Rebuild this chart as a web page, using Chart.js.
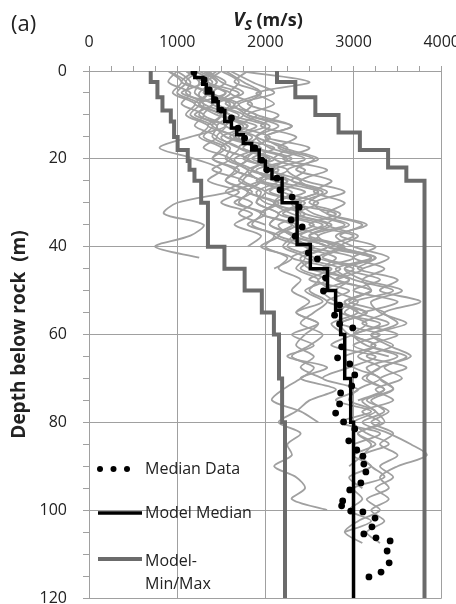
<!DOCTYPE html>
<html>
<head>
<meta charset="utf-8">
<script src="https://cdn.jsdelivr.net/npm/chart.js@4"></script>
<style>
html, body { margin: 0; padding: 0; background: #fff; overflow: hidden; }
#wrap { position: relative; width: 456px; height: 604px; overflow: hidden; }
</style>
</head>
<body>
<div id="wrap"><canvas id="vsCanvas" width="474" height="604"></canvas></div>
<script>
// depth grid (m) shared by the measured profiles
var gridDepth = [0, 2.5, 5, 7.5, 10, 12.5, 15, 17.5, 20, 22.5, 25, 27.5, 30, 32.5, 35, 37.5,
	40, 42.5, 45, 47.5, 50, 52.5, 55, 57.5, 60, 62.5, 65, 67.5, 70, 72.5, 75, 77.5, 80,
	82.5, 85, 87.5, 90, 92.5, 95, 97.5, 100, 102.5, 105, 107.5, 110, 112.5, 115];

// measured Vs profiles (m/s), one value per grid depth, each ends where the borehole ends
var profileVs = [
	[900, 1100, 1000, 1250, 1150, 1400, 1300, 1550, 1400, 1700, 1550, 1850, 1650, 2000, 1800, 2150, 1950, 2300, 2100],
	[1400, 1250, 1600, 1450, 1750, 1550, 1900, 1750, 2050, 1850, 2250, 2000, 2400, 2150, 2550, 2300, 2700, 2450, 2850, 2600, 2750],
	[1100, 1300, 1050, 1400, 1200, 1550, 1150, 800, 1200, 1500, 1350, 1700, 1500, 1850, 1650, 1950, 1800],
	[1300, 1550, 1400, 1700, 1500, 1900, 1650, 2100, 1850, 2250, 1950, 1600, 1000, 850, 1300, 1150, 750, 1250],
	[1700, 2500, 1900, 2100, 1800, 2300, 2000, 2500, 2200, 2700, 2400, 2600, 2300, 2800, 2500, 3000, 2700, 3200, 2900, 3300, 3000, 3500, 3100],
	[1500, 1350, 1700, 1550, 1900, 1700, 2050, 1900, 2250, 2050, 2400, 2200, 2600, 2350, 2750, 2500, 2900, 2650, 3100, 2800],
	[1000, 900, 1150, 1050, 1300, 1200, 1450, 1300, 1600, 1400, 1750, 1550, 1850, 1700, 2000],
	[1250, 1450, 1300, 1650, 1500, 1800, 1600, 1950, 1750, 2150, 1900, 2300, 2100],
	[1600, 1850, 2100, 1700, 1900, 2300, 2000, 2200, 2600, 2250, 2450, 2900, 2550, 2700, 3150, 2800, 3000, 3400, 3100],
	[1200, 1050, 1350, 1250, 1500, 1400, 1650, 1500, 1800, 1650, 1950, 1800, 2100, 1950, 2300, 2100, 2450],
	[1350, 1500, 1750, 1450, 1600, 2000, 1700, 1900, 2300, 1900, 2100, 2600, 2300, 2450, 2900, 2500, 2700, 3200, 2800, 3000, 3450, 3000, 2850, 3300, 3000, 2750, 3250, 2950, 2650, 3050, 2800, 3200, 2850, 3300, 3000],
	[1000, 1150, 1100, 1300, 1250, 1450, 1400, 1600, 1550, 1800, 1700, 1950, 1900, 2150, 2050, 2350, 2250, 2550, 2400, 2700, 2450, 2650, 2350, 2600, 2300, 2550, 2250, 2700, 2400, 2800, 2500, 2350, 2150, 2400, 2250, 2300, 2100, 2350, 2450, 2300, 2700],
	[1500, 1700, 1600, 1850, 1750, 2050, 1900, 2250, 2100, 2450, 2300, 2650, 2500, 2850, 2700, 3050, 2850, 3250, 3050, 3500, 3300, 3760, 3350, 3500, 3200, 3450, 3150, 3600, 3300, 3450, 3200, 3350, 3100, 3400, 3650, 3830, 3500, 3300, 3400, 3150, 3300, 3050, 2900, 3100],
	[1200, 1400, 1250, 1300, 1600, 1450, 1550, 1900, 1650, 1800, 2150, 1900, 2000, 2450, 2150, 2300, 2700, 2400, 2500, 2950, 2650, 2800, 3150, 2850, 2950, 3250, 2900, 3000, 3300, 3050, 2950, 3250, 3000, 3150, 3400, 3100, 3200, 3350, 3000, 3100, 2950, 3200, 2900],
	[1100, 1250, 1200, 1400, 1300, 1550, 1450, 1700, 1600, 1850, 1750, 2000, 1900, 2150, 2050, 2300, 2200, 2450, 2350, 2600, 2500, 2700, 2550, 2400, 2650, 2500, 2300, 2550, 2400, 2200, 2075, 2400, 2600],
	[1450, 1300, 1550, 1400, 1700, 1550, 1850, 1700, 2050, 1850, 2250, 2050, 2450, 2200, 2650, 2400, 2850, 2600, 3000, 2800, 3200, 2950, 3350, 3100, 3500, 3200, 3600, 3350, 3550, 3250, 3450, 3100, 3300, 3050, 3250, 3000, 3200, 2950, 3100],
	[1150, 1300, 1550, 1250, 1450, 1800, 1500, 1700, 2100, 1800, 1950, 2450, 2100, 2300, 2700, 2350, 2500, 3000, 2650, 2800, 3200, 2900, 3050, 3400, 3000, 3150, 3500, 3150, 3300, 3450, 3100, 3250, 3350, 3050, 3200, 3100, 2950],
	[1300, 1450, 1350, 1600, 1500, 1750, 1650, 1900, 1800, 2050, 1950, 2200, 2100, 2400, 2300, 2600, 2450, 2800, 2650, 2950, 2800, 3050, 2900, 3150, 3000, 3250, 3050, 3300, 3100, 3350, 3150, 3400, 3200, 3450, 3300, 3500, 3300, 3450, 3250, 3400, 3200, 3350, 3150, 3300],
	[1250, 1100, 1350, 1200, 1500, 1350, 1650, 1500, 1800, 1650, 1950, 1800, 2150, 1950, 2350, 2150, 2550, 2300, 2750, 2500, 2950, 2700, 3150, 2850, 3300, 3000, 3400],
	[1800, 1650, 1950, 1800, 2150, 1950, 2350, 2150, 2550, 2350, 2750, 2550, 2900, 2700, 3100, 2850, 3250, 3000, 3350, 3100, 3200, 2900, 3050, 2750, 2900],
	[900, 1050, 950, 1200, 1100, 1350, 1250, 1500, 1400, 1650, 1550, 1800, 1700, 1950, 1850, 2100, 2000, 2250, 2150, 2400, 2300, 2500, 2350, 2600, 2450, 2350, 2550, 2400, 2650],
	[1550, 1750, 1950, 1650, 1800, 2150, 1900, 2050, 2450, 2100, 2300, 2700, 2400, 2550, 2950, 2600, 2800, 3250, 2900, 3100, 3550, 3200, 3300, 3600, 3200, 3400, 3650, 3300, 3150, 3350, 3050]
];

// median of the measured data
var medianDataDepth = [0.3, 2.0, 4.3, 6.5, 8.9, 10.7, 13, 15.3, 17.5, 20.3, 22.5, 24.4, 27.1, 28.7, 31.0,
	33.9, 35.5, 37.6, 41.4, 42.8, 47.1, 50.1, 53.3, 55.6, 57.6, 58.5, 62.8, 65.3, 66.7, 69.2,
	71.7, 73.3, 75.8, 77.9, 79.9, 81.5, 84.2, 86.3, 87.7, 89.5, 91.3, 93.8, 95.4, 97.9, 99.0,
	100.2, 100.4, 101.8, 103.8, 105.4, 106.3, 107.0, 109.3, 112.0, 114.1, 115.2];
var medianDataVs = [1190, 1307, 1364, 1430, 1501, 1616, 1690, 1765, 1880, 1960, 2017, 2132, 2166, 2304, 2384,
	2292, 2418, 2338, 2487, 2590, 2682, 2659, 2842, 2785, 2842, 2991, 2865, 2819, 2957, 3014,
	2980, 2854, 2842, 2797, 2888, 3014, 2946, 3037, 3106, 3117, 3140, 3083, 2957, 2877, 2865,
	2968, 3106, 3244, 3209, 3117, 3255, 3415, 3381, 3404, 3312, 3175];

// model layers: top depth (m) and Vs (m/s), each layer runs to the next top (last to 120 m)
var medianTop = [0, 1.5, 3, 5, 7, 9, 11.5, 13, 14.5, 16.5, 18, 20.5, 22.5, 24.5, 30, 39.5, 45, 50, 54.5, 60, 70, 80];
var medianVs = [1200, 1290, 1330, 1405, 1465, 1540, 1615, 1675, 1750, 1845, 1930, 2000, 2075, 2190, 2360, 2510, 2705, 2797, 2854, 2900, 2968, 3000];
var minTop = [0, 2.5, 6, 9, 11.5, 15, 18, 20.5, 22.5, 25, 30, 40, 45, 50, 55, 60, 70, 80];
var minVs = [700, 776, 833, 928, 965, 1005, 1120, 1140, 1196, 1272, 1349, 1536, 1765, 1960, 2097, 2155, 2190, 2223];
var maxTop = [0, 2.5, 6, 10, 14, 18, 22, 25];
var maxVs = [2132, 2340, 2567, 2830, 3072, 3392, 3599, 3805];

var maxDepth = 120;
var fontName = '"Open Sans", "DejaVu Sans", sans-serif';
var textColor = '#222';
var gridColor = '#a0a0a0';

function stepPoints(tops, vs) {
	var pts = [];
	for (var i = 0; i < tops.length; i++) {
		var bottom = i + 1 < tops.length ? tops[i + 1] : maxDepth;
		pts.push({x: vs[i], y: tops[i]});
		pts.push({x: vs[i], y: bottom});
	}
	return pts;
}

function profilePoints(vs) {
	return vs.map(function (v, i) { return {x: v, y: gridDepth[i]}; });
}

var datasets = [];

datasets.push({
	label: 'Median Data',
	data: medianDataVs.map(function (v, i) { return {x: v, y: medianDataDepth[i]}; }),
	showLine: false,
	pointRadius: 3.4,
	pointBackgroundColor: '#000',
	pointBorderWidth: 0,
	order: 0
});
datasets.push({
	label: 'Model Median',
	data: stepPoints(medianTop, medianVs),
	showLine: true,
	borderColor: '#000',
	borderWidth: 3.5,
	pointRadius: 0,
	order: 1
});
datasets.push({
	label: 'Model-Min',
	data: stepPoints(minTop, minVs),
	showLine: true,
	borderColor: '#6b6b6b',
	borderWidth: 4,
	pointRadius: 0,
	order: 2
});
datasets.push({
	label: 'Model-Max',
	data: stepPoints(maxTop, maxVs),
	showLine: true,
	borderColor: '#6b6b6b',
	borderWidth: 4,
	pointRadius: 0,
	order: 2
});
profileVs.forEach(function (vs, k) {
	datasets.push({
		label: 'profile ' + (k + 1),
		data: profilePoints(vs),
		showLine: true,
		borderColor: '#a0a0a0',
		borderWidth: 1.8,
		tension: 0.3,
		pointRadius: 0,
		order: 5
	});
});

// "(a)", the Vs axis title and the legend box
var annotate = {
	id: 'annotate',
	afterDraw: function (chart) {
		var ctx = chart.ctx;
		ctx.save();
		ctx.fillStyle = textColor;
		ctx.textBaseline = 'alphabetic';
		ctx.textAlign = 'left';

		ctx.font = '22px ' + fontName;
		ctx.fillText('(a)', 11, 31);

		var fV = 'italic bold 19px ' + fontName,
			fS = 'italic bold 14px ' + fontName,
			fU = 'bold 18px ' + fontName;
		ctx.font = fV; var wV = ctx.measureText('V').width;
		ctx.font = fS; var wS = ctx.measureText('S').width;
		ctx.font = fU; var wU = ctx.measureText(' (m/s)').width;
		var x = 268 - (wV + wS + wU) / 2, base = 26;
		ctx.font = fV; ctx.fillText('V', x, base); x += wV;
		ctx.font = fS; ctx.fillText('S', x, base + 4); x += wS;
		ctx.font = fU; ctx.fillText(' (m/s)', x, base);

		// legend
		var lx = 98, tx = 145;
		ctx.fillStyle = '#000';
		[100, 113.5, 127].forEach(function (cx) {
			ctx.beginPath();
			ctx.arc(cx, 469, 3, 0, Math.PI * 2);
			ctx.fill();
		});
		ctx.lineWidth = 3.5;
		ctx.strokeStyle = '#000';
		ctx.beginPath(); ctx.moveTo(lx, 513); ctx.lineTo(lx + 44, 513); ctx.stroke();
		ctx.lineWidth = 4;
		ctx.strokeStyle = '#6b6b6b';
		ctx.beginPath(); ctx.moveTo(lx, 559); ctx.lineTo(lx + 44, 559); ctx.stroke();

		ctx.fillStyle = textColor;
		ctx.font = '16px ' + fontName;
		ctx.textBaseline = 'middle';
		ctx.fillText('Median Data', tx, 469);
		ctx.fillText('Model Median', tx, 513);
		ctx.fillText('Model-', tx, 561);
		ctx.fillText('Min/Max', tx, 584);
		ctx.restore();
	}
};

// canvas is 18px wider than the page: the top axis keeps room right of "4000",
// that room falls outside the 456px window so the plot ends at x=438
new Chart(document.getElementById('vsCanvas'), {
	type: 'scatter',
	data: {datasets: datasets},
	plugins: [annotate],
	options: {
		responsive: false,
		animation: false,
		layout: {padding: {left: 0, top: 0, right: 0, bottom: 6}},
		plugins: {legend: {display: false}, tooltip: {enabled: false}},
		scales: {
			x: {
				type: 'linear',
				position: 'top',
				min: 0,
				max: 4000,
				afterFit: function (s) {
					s.height = 71;
					s.paddingLeft = 0;
				},
				ticks: {
					stepSize: 250,
					autoSkip: false,
					maxRotation: 0,
					padding: 14,
					color: textColor,
					font: {family: fontName, size: 16},
					callback: function (v) { return v % 1000 === 0 ? v : ''; }
				},
				grid: {
					color: function (c) { return c.tick && c.tick.value % 1000 === 0 ? gridColor : 'rgba(0,0,0,0)'; },
					tickColor: gridColor,
					tickLength: 5,
					lineWidth: 1
				},
				border: {display: true, color: gridColor}
			},
			y: {
				type: 'linear',
				reverse: true,
				min: 0,
				max: maxDepth,
				afterFit: function (s) {
					s.width = 89;
					s.paddingTop = 0;
					s.paddingBottom = 0;
				},
				title: {
					display: true,
					text: 'Depth below rock  (m)',
					color: textColor,
					font: {family: fontName, size: 19, weight: 'bold'},
					padding: {top: 8, bottom: 0}
				},
				ticks: {
					stepSize: 5,
					autoSkip: false,
					padding: 16,
					color: textColor,
					font: {family: fontName, size: 16},
					callback: function (v) { return v % 20 === 0 ? v : ''; }
				},
				grid: {
					color: function (c) { return c.tick && c.tick.value % 20 === 0 ? gridColor : 'rgba(0,0,0,0)'; },
					tickColor: gridColor,
					tickLength: 6,
					lineWidth: 1
				},
				border: {display: true, color: gridColor}
			}
		}
	}
});
</script>
</body>
</html>
